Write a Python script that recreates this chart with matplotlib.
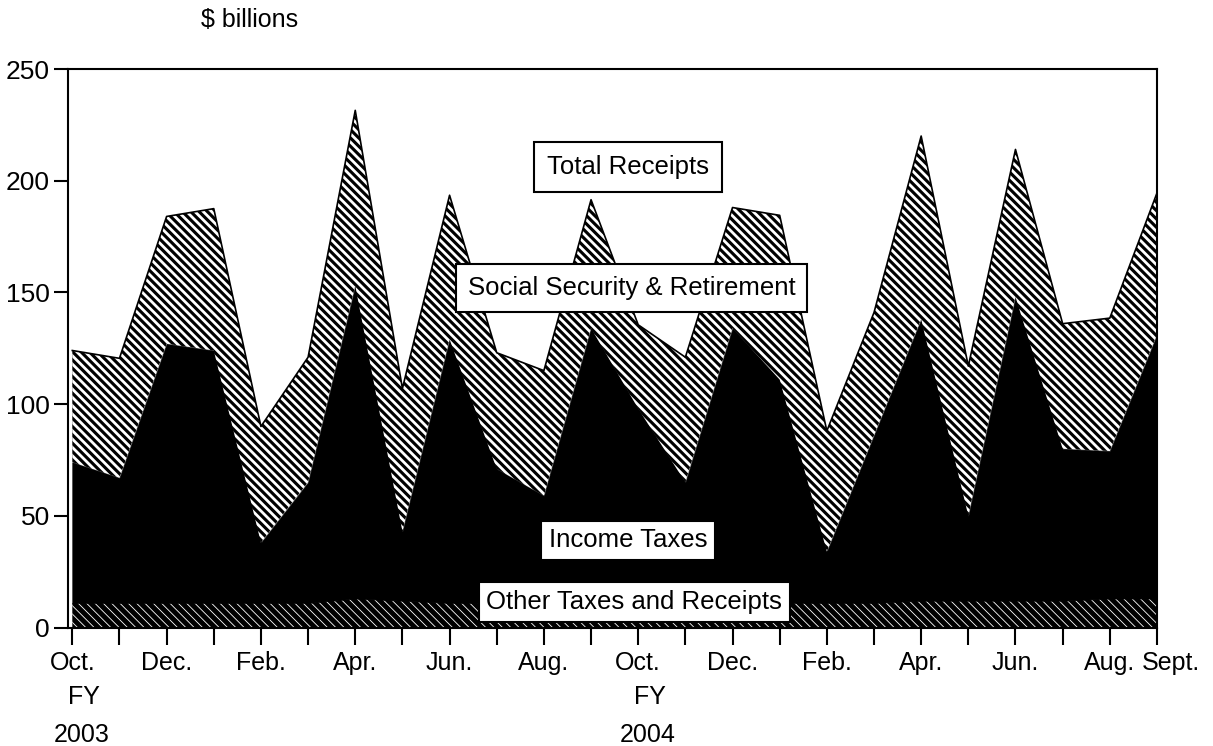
import numpy as np
import matplotlib
matplotlib.use("Agg")
import matplotlib.pyplot as plt
import matplotlib.transforms as mtransforms

plt.rcParams['font.family'] = ['Liberation Sans', 'DejaVu Sans']
plt.rcParams['hatch.color'] = 'white'

# monthly receipts, $ billions, Oct FY2003 .. Sept FY2004
months = ['Oct.', '', 'Dec.', '', 'Feb.', '', 'Apr.', '', 'Jun.', '', 'Aug.', '',
          'Oct.', '', 'Dec.', '', 'Feb.', '', 'Apr.', '', 'Jun.', '', 'Aug.', 'Sept.']
other_taxes = [11, 11, 11, 11, 11, 11, 13, 12, 11, 11, 11, 11,
               11, 11, 11, 11, 11, 11, 12, 12, 12, 12, 13, 13]
income_taxes = [63, 56, 116, 113, 27, 54, 140, 31, 118, 60, 48, 123,
                87, 54, 123, 100, 23, 75, 126, 38, 136, 68, 66, 118]
social_security = [50, 53.5, 57, 63.5, 52, 56, 78.5, 64, 64.5, 52, 56, 57.5,
                   37.5, 56, 54, 73.5, 54, 55, 82, 67, 66, 56, 59.5, 63.5]
fy_labels = [(0, 'FY', '2003'), (12, 'FY', '2004')]

x = np.arange(len(months))
lvl1 = np.array(other_taxes, dtype=float)
lvl2 = lvl1 + np.array(income_taxes)
lvl3 = lvl2 + np.array(social_security)

fig = plt.figure(figsize=(12.13, 7.46), dpi=100)
ax = fig.add_axes([0.0561, 0.1588, 0.8977, 0.7487])

other = ax.fill_between(x, 0, lvl1, facecolor='black', edgecolor='white',
                        hatch='\\\\\\\\', linewidth=0)
ax.fill_between(x, lvl1, lvl2, facecolor='black', edgecolor='black', linewidth=0.5)
ss = ax.fill_between(x, lvl2, lvl3, facecolor='black', edgecolor='white',
                     hatch='\\\\\\\\', linewidth=0)
if hasattr(ss, 'set_hatch_linewidth'):
    ss.set_hatch_linewidth(2.0)
    other.set_hatch_linewidth(0.6)
else:
    plt.rcParams['hatch.linewidth'] = 1.6
ax.plot(x, lvl3, color='black', linewidth=1.2)

ax.set_xlim(-0.09, 23.0)
ax.set_ylim(0, 250)
ax.set_yticks(np.arange(0, 251, 50))
ax.set_xticks(x)
ax.set_xticklabels(months)
ax.tick_params(axis='both', labelsize=18, width=1.5, color='black')
ax.tick_params(axis='y', length=10, pad=3, labelsize=19)
ax.tick_params(axis='x', length=12, pad=5)
for sp in ax.spines.values():
    sp.set_linewidth(1.5)

# the last label sits a little right of its tick, as in the source
sept = ax.get_xticklabels()[-1]
sept.set_transform(sept.get_transform() +
                   mtransforms.ScaledTranslation(14 / 100, 0, fig.dpi_scale_trans))

box = dict(boxstyle='square,pad=0.5', facecolor='white', edgecolor='black', linewidth=1.5)
ax.text(11.78, 206, 'Total Receipts', fontsize=18.5, ha='center', va='center', bbox=box)
box_ss = dict(boxstyle='square,pad=0.45', facecolor='white', edgecolor='black', linewidth=1.5)
ax.text(11.86, 152, 'Social Security & Retirement', fontsize=18.5, ha='center', va='center', bbox=box_ss)
box2 = dict(boxstyle='square,pad=0.3', facecolor='white', edgecolor='black', linewidth=1.5)
ax.text(11.78, 39, 'Income Taxes', fontsize=18.5, ha='center', va='center', bbox=box2)
ax.text(11.92, 11.4, 'Other Taxes and Receipts', fontsize=18.5, ha='center', va='center', bbox=box2)

trans = mtransforms.blended_transform_factory(ax.transData, ax.transAxes)
for xi, fy, year in fy_labels:
    ax.text(xi + 0.25, -0.1244, fy, transform=trans, fontsize=18, ha='center', va='center')
    ax.text(xi + 0.2, -0.1925, year, transform=trans, fontsize=18, ha='center', va='center')

ax.text(0.167, 1.088, '$ billions', transform=ax.transAxes, fontsize=18,
        ha='center', va='center')

fig.savefig('out.png', dpi=100)
